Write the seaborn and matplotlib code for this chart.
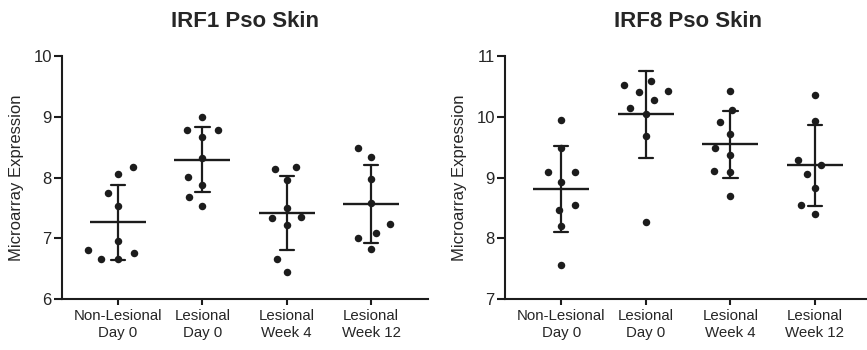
import numpy as np
import pandas as pd
import matplotlib
matplotlib.use("Agg")
import matplotlib.pyplot as plt
import seaborn as sns

# ---------------- data ----------------
groups = ["Non-Lesional\nDay 0", "Lesional\nDay 0", "Lesional\nWeek 4", "Lesional\nWeek 12"]

irf1_nl_d0 = [8.18, 8.06, 7.74, 7.53, 6.96, 6.81, 6.66, 6.66, 6.76]
irf1_l_d0 = [9.00, 8.78, 8.78, 8.67, 8.32, 8.01, 7.88, 7.68, 7.53]
irf1_l_w4 = [8.18, 8.14, 7.96, 7.50, 7.35, 7.33, 7.22, 6.66, 6.45]
irf1_l_w12 = [8.49, 8.33, 7.97, 7.58, 7.23, 7.08, 7.00, 6.83]

irf8_nl_d0 = [9.95, 9.49, 9.09, 9.09, 8.93, 8.55, 8.46, 8.20, 7.56]
irf8_l_d0 = [10.59, 10.52, 10.40, 10.42, 10.27, 10.14, 10.04, 9.69, 8.27]
irf8_l_w4 = [10.43, 10.11, 9.92, 9.71, 9.48, 9.37, 9.11, 9.09, 8.69]
irf8_l_w12 = [10.35, 9.93, 9.21, 9.28, 9.06, 8.83, 8.55, 8.40]

titles = ["IRF1 Pso Skin", "IRF8 Pso Skin"]
ylims = [(6, 10), (7, 11)]
yticks = [[6, 7, 8, 9, 10], [7, 8, 9, 10, 11]]
ylabel = "Microarray Expression"

panels = [
    [irf1_nl_d0, irf1_l_d0, irf1_l_w4, irf1_l_w12],
    [irf8_nl_d0, irf8_l_d0, irf8_l_w4, irf8_l_w12],
]

# ---------------- style ----------------
sns.set_theme(style="ticks")
plt.rcParams["font.family"] = ["Liberation Sans", "DejaVu Sans"]
ink = "#1c1c1c"
text_col = "#262626"

fig = plt.figure(figsize=(8.67, 3.5), dpi=100)
W, H = 867, 350
rects = [
    [62 / W, 51 / H, 366 / W, 243 / H],
    [505 / W, 51 / H, 367 / W, 243 / H],
]

LAYOUT_SIZE = 11.5  # spacing used for the swarm layout
DOT_SIZE = 5.4      # drawn dot diameter (pt)

axes = []
for rect, vals, title, ylim, yt in zip(rects, panels, titles, ylims, yticks):
    ax = fig.add_axes(rect)
    axes.append(ax)
    df = pd.DataFrame({
        "group": np.repeat(groups, [len(v) for v in vals]),
        "value": np.concatenate(vals),
    })
    sns.pointplot(
        data=df, x="group", y="value", order=groups,
        estimator="mean", errorbar="sd", color=ink,
        linestyle="none", markers="_", markersize=41, markeredgewidth=1.7,
        capsize=0.17, err_kws={"linewidth": 1.6}, ax=ax,
    )
    sns.swarmplot(
        data=df, x="group", y="value", order=groups,
        color=ink, size=LAYOUT_SIZE, linewidth=0, ax=ax,
    )
    ax.set_xlim(-0.665, 3.675)
    ax.set_ylim(*ylim)
    ax.set_yticks(yt)
    ax.set_xlabel("")
    ax.set_ylabel(ylabel, fontsize=12, color=text_col, labelpad=7)
    ax.set_title(title, fontsize=16, fontweight="bold", color=text_col, pad=21)
    sns.despine(ax=ax)
    for s in ["left", "bottom"]:
        ax.spines[s].set_linewidth(1.5)
        ax.spines[s].set_color(ink)
    ax.tick_params(axis="y", length=5.8, width=1.5, color=ink, labelsize=12,
                   labelcolor=text_col, pad=1.5)
    ax.tick_params(axis="x", length=4.5, width=1.5, color=ink, labelsize=10.8,
                   labelcolor=text_col, pad=3)

# compute the swarm layout with the wider spacing, then freeze it and shrink dots
fig.canvas.draw()
for ax in axes:
    for coll in ax.collections:
        if "draw" in coll.__dict__:
            del coll.draw
        coll.set_sizes([DOT_SIZE ** 2])

fig.savefig("out.png", dpi=100)
